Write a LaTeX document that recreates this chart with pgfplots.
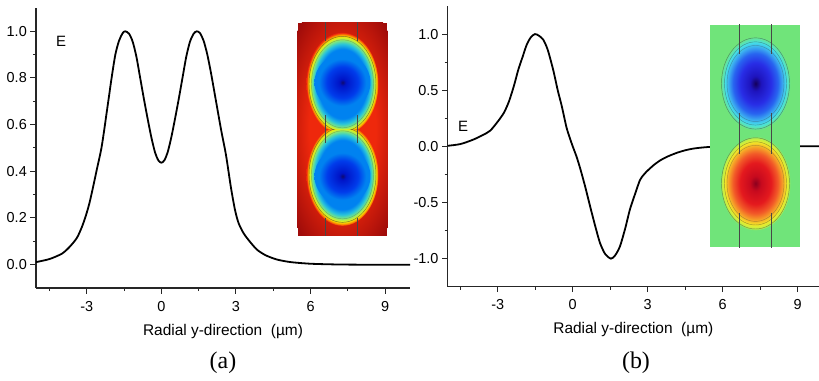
\documentclass[border=0pt]{standalone}
\usepackage{pgfplots}
\pgfplotsset{compat=1.18}
\usepackage{fontspec}
\setmainfont{Liberation Sans}
\newfontfamily\timesf{Liberation Serif}

% inset (a) colours
\definecolor{dkred}{RGB}{160,12,10}
\definecolor{brred}{RGB}{238,40,12}
\definecolor{ja0}{RGB}{15,10,110}
\definecolor{ja1}{RGB}{0,20,200}
\definecolor{ja2}{RGB}{0,60,235}
\definecolor{ja3}{RGB}{0,130,240}
\definecolor{ja4}{RGB}{40,195,220}
\definecolor{ja5}{RGB}{120,230,130}
\definecolor{ja6}{RGB}{210,240,40}
\definecolor{ja7}{RGB}{250,215,0}
\definecolor{ja8}{RGB}{250,135,0}
% inset (b) colours
\definecolor{bggreen}{RGB}{112,228,122}
\definecolor{jb0}{RGB}{20,0,90}
\definecolor{jb1}{RGB}{30,20,190}
\definecolor{jb2}{RGB}{40,45,230}
\definecolor{jb3}{RGB}{40,100,240}
\definecolor{jb4}{RGB}{60,175,240}
\definecolor{jb5}{RGB}{70,225,230}
\definecolor{jr0}{RGB}{140,0,30}
\definecolor{jr1}{RGB}{200,10,30}
\definecolor{jr2}{RGB}{228,25,30}
\definecolor{jr3}{RGB}{242,90,40}
\definecolor{jr4}{RGB}{246,165,40}
\definecolor{jr5}{RGB}{242,232,40}
\definecolor{jr6}{RGB}{190,240,70}

\pgfdeclareradialshading{glowA}{\pgfpoint{0bp}{0bp}}{color(0bp)=(brred); color(13bp)=(brred); color(25bp)=(dkred); color(50bp)=(dkred)}
% outer (elongated) part of a blob in (a)
\pgfdeclareradialshading{outerA}{\pgfpoint{0bp}{0bp}}{color(0bp)=(ja3); color(17bp)=(ja3); color(19.5bp)=(ja4); color(21.3bp)=(ja5); color(22.6bp)=(ja6); color(23.4bp)=(ja7); color(24.2bp)=(ja8); color(25bp)=(brred); color(50bp)=(brred)}
% inner (round) core of a blob in (a)
\pgfdeclareradialshading{innerA}{\pgfpoint{0bp}{0bp}}{color(0bp)=(ja0); color(3bp)=(ja1); color(14bp)=(ja2); color(21bp)=(ja3); color(25bp)=(ja3); color(50bp)=(ja3)}
\pgfdeclareradialshading{blobBblue}{\pgfpoint{0bp}{0bp}}{color(0bp)=(jb0); color(4bp)=(jb1); color(11bp)=(jb2); color(16bp)=(jb3); color(19.5bp)=(jb4); color(22bp)=(jb5); color(25bp)=(bggreen); color(50bp)=(bggreen)}
\pgfdeclareradialshading{blobBred}{\pgfpoint{0bp}{0bp}}{color(0bp)=(jr0); color(4bp)=(jr1); color(11bp)=(jr2); color(16bp)=(jr3); color(19.5bp)=(jr4); color(22bp)=(jr5); color(24bp)=(jr6); color(25bp)=(bggreen); color(50bp)=(bggreen)}

\pgfplotstableread{
x y
-5.04 0.011
-4.5 0.024
-4.0 0.047
-3.7 0.075
-3.4 0.114
-3.2 0.16
-3.05 0.205
-2.9 0.26
-2.75 0.33
-2.6 0.405
-2.4 0.505
-2.2 0.65
-2.0 0.80
-1.85 0.90
-1.7 0.96
-1.55 0.993
-1.45 1.0
-1.3 0.99
-1.15 0.955
-1.0 0.89
-0.85 0.80
-0.7 0.71
-0.55 0.625
-0.4 0.545
-0.25 0.48
-0.12 0.447
0 0.437
0.12 0.447
0.25 0.48
0.4 0.545
0.55 0.625
0.7 0.71
0.85 0.80
1.0 0.89
1.15 0.955
1.3 0.99
1.42 1.0
1.55 0.993
1.7 0.96
1.85 0.90
2.0 0.82
2.2 0.70
2.4 0.58
2.6 0.47
2.8 0.33
2.96 0.236
3.1 0.18
3.3 0.136
3.55 0.10
3.85 0.064
4.2 0.04
4.65 0.022
5.2 0.011
6.0 0.004
7.0 0.001
8.0 0.0
10.0 0.0
}\dataA

\pgfplotstableread{
x y
-5.0 0.005
-4.5 0.02
-4.0 0.058
-3.6 0.10
-3.3 0.14
-3.0 0.22
-2.75 0.30
-2.55 0.40
-2.35 0.54
-2.18 0.68
-2.0 0.80
-1.84 0.905
-1.68 0.97
-1.51 1.0
-1.35 0.985
-1.18 0.95
-1.0 0.86
-0.78 0.68
-0.6 0.50
-0.44 0.36
-0.25 0.17
-0.11 0.07
0 0.0
0.15 -0.09
0.29 -0.19
0.5 -0.36
0.69 -0.53
0.9 -0.71
1.09 -0.86
1.3 -0.96
1.53 -1.0
1.7 -0.97
1.89 -0.89
2.1 -0.73
2.29 -0.56
2.5 -0.42
2.69 -0.30
2.85 -0.25
3.0 -0.215
3.25 -0.165
3.5 -0.125
3.8 -0.09
4.16 -0.058
4.5 -0.035
4.82 -0.02
5.2 -0.01
5.6 -0.004
6.5 0
9.9 0
}\dataB

\tikzset{
  ctr/.style={black!80, line width=0.45bp},
  vln/.style={black!72, line width=0.6bp},
}

\pgfplotsset{
  panel/.style={
    scale only axis,
    axis lines*=left,
    axis line style={line width=1.1bp, black!85},
    tick align=outside,
    xtick pos=bottom, ytick pos=left,
    major tick length=5.5bp,
    minor tick length=3bp,
    every tick/.style={line width=1.0bp, black!85},
    tick label style={font=\fontsize{14.5}{16}\selectfont, inner sep=0pt},
    /pgf/number format/assume math mode=true,
    xtick={-3,0,3,6,9},
    minor xtick={-4.5,-1.5,1.5,4.5,7.5},
    xticklabel style={anchor=north, yshift=-7.5bp},
    yticklabel style={anchor=east, xshift=-3.5bp,
      /pgf/number format/fixed, /pgf/number format/fixed zerofill,
      /pgf/number format/precision=1},
    xlabel={Radial y-direction\ \ (µm)},
    x label style={font=\fontsize{15.5}{17}\selectfont, at={(axis description cs:0.5,0)}, anchor=base, yshift=-47bp},
  },
  curve/.style={black, line width=1.8bp, smooth, tension=0.45},
}

\begin{document}
\begin{tikzpicture}
\useasboundingbox (0,0) rectangle (819bp,381bp);

% ---------------- panel (a) ----------------
\begin{axis}[panel,
  at={(36bp,93bp)}, anchor=south west,
  width=374bp, height=280bp,
  xmin=-5.04, xmax=10, ymin=-0.1, ymax=1.1,
  ytick={0,0.2,0.4,0.6,0.8,1.0},
  minor ytick={0.1,0.3,0.5,0.7,0.9},
]
\addplot[curve] table[x=x,y=y] {\dataA};
\node[font=\fontsize{15}{17}\selectfont] at (axis cs:-4.03,0.956) {E};
% inset
\begin{scope}
\clip (axis cs:5.48,0.124) rectangle (axis cs:9.09,1.036);
\fill[dkred] (axis cs:5.48,0.124) rectangle (axis cs:9.09,1.036);
\shade[shading=glowA] (axis cs:7.285,0.58) ellipse [x radius=64bp, y radius=138bp];
\draw[vln] (axis cs:6.58,1.04) -- (axis cs:6.58,0.12);
\draw[vln] (axis cs:7.88,1.04) -- (axis cs:7.88,0.12);
\begin{scope}
\clip (axis cs:5.4,0.58) rectangle (axis cs:9.2,1.1);
\shade[shading=outerA] (axis cs:7.285,0.775) ellipse [x radius=36bp, y radius=51bp];
\end{scope}
\begin{scope}
\clip (axis cs:5.4,0.58) rectangle (axis cs:9.2,0.0);
\shade[shading=outerA] (axis cs:7.285,0.385) ellipse [x radius=36bp, y radius=51bp];
\end{scope}
\shade[shading=innerA] (axis cs:7.285,0.781) circle [radius=28bp];
\shade[shading=innerA] (axis cs:7.285,0.379) circle [radius=28bp];
\begin{scope}
\clip (axis cs:5.4,0.58) rectangle (axis cs:9.2,1.1);
\draw[ctr, opacity=0.6] (axis cs:7.285,0.775) ellipse [x radius=33.5bp, y radius=47.5bp];
\draw[ctr, opacity=0.3] (axis cs:7.285,0.775) ellipse [x radius=31bp, y radius=44bp];
\end{scope}
\begin{scope}
\clip (axis cs:5.4,0.58) rectangle (axis cs:9.2,0.0);
\draw[ctr, opacity=0.6] (axis cs:7.285,0.385) ellipse [x radius=33.5bp, y radius=47.5bp];
\draw[ctr, opacity=0.3] (axis cs:7.285,0.385) ellipse [x radius=31bp, y radius=44bp];
\end{scope}
\draw[vln] (axis cs:6.58,1.04) -- (axis cs:6.58,0.96);
\draw[vln] (axis cs:7.88,1.04) -- (axis cs:7.88,0.96);
\draw[vln] (axis cs:6.58,0.64) -- (axis cs:6.58,0.52);
\draw[vln] (axis cs:7.88,0.64) -- (axis cs:7.88,0.52);
\draw[vln] (axis cs:6.58,0.20) -- (axis cs:6.58,0.12);
\draw[vln] (axis cs:7.88,0.20) -- (axis cs:7.88,0.12);
\end{scope}
\end{axis}

% ---------------- panel (b) ----------------
\begin{axis}[panel,
  at={(447.7bp,94.3bp)}, anchor=south west,
  width=371.3bp, height=280.7bp,
  xmin=-5, xmax=9.85, ymin=-1.25, ymax=1.25,
  ytick={-1,-0.5,0,0.5,1},
  minor ytick={-0.75,-0.25,0.25,0.75},
]
\addplot[curve] table[x=x,y=y] {\dataB};
\node[font=\fontsize{15}{17}\selectfont] at (axis cs:-4.38,0.178) {E};
% inset
\begin{scope}
\clip (axis cs:5.49,-0.90) rectangle (axis cs:9.09,1.085);
\fill[bggreen] (axis cs:5.49,-0.90) rectangle (axis cs:9.09,1.085);
\shade[shading=blobBblue] (axis cs:7.31,0.56) ellipse [x radius=35bp, y radius=47bp];
\shade[shading=blobBred] (axis cs:7.31,-0.33) ellipse [x radius=35bp, y radius=47bp];
\draw[ctr, opacity=0.5] (axis cs:7.31,0.56) ellipse [x radius=34bp, y radius=45.6bp];
\draw[ctr, opacity=0.45] (axis cs:7.31,0.56) ellipse [x radius=31bp, y radius=41.6bp];
\draw[ctr, opacity=0.35] (axis cs:7.31,0.56) ellipse [x radius=28.5bp, y radius=38bp];
\draw[ctr, opacity=0.5] (axis cs:7.31,-0.33) ellipse [x radius=34bp, y radius=45.6bp];
\draw[ctr, opacity=0.45] (axis cs:7.31,-0.33) ellipse [x radius=31bp, y radius=41.6bp];
\draw[ctr, opacity=0.35] (axis cs:7.31,-0.33) ellipse [x radius=28.5bp, y radius=38bp];
\draw[vln] (axis cs:6.66,1.09) -- (axis cs:6.66,0.82);
\draw[vln] (axis cs:7.96,1.09) -- (axis cs:7.96,0.82);
\draw[vln] (axis cs:6.66,0.30) -- (axis cs:6.66,-0.07);
\draw[vln] (axis cs:7.96,0.30) -- (axis cs:7.96,-0.07);
\draw[vln] (axis cs:6.66,-0.59) -- (axis cs:6.66,-0.91);
\draw[vln] (axis cs:7.96,-0.59) -- (axis cs:7.96,-0.91);
\end{scope}
\end{axis}

\node[font=\timesf\fontsize{24}{26}\selectfont, anchor=base] at (223bp,12.7bp) {(a)};
\node[font=\timesf\fontsize{24}{26}\selectfont, anchor=base] at (636bp,12.7bp) {(b)};
\end{tikzpicture}
\end{document}
